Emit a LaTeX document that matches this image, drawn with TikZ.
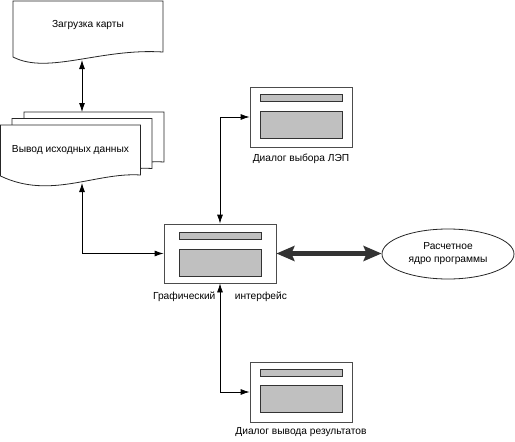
\documentclass[tikz,border=0pt]{standalone}
\usepackage{fontspec}
\setmainfont{Liberation Sans}
\usetikzlibrary{positioning, arrows.meta, shapes.geometric, calc, backgrounds}

\definecolor{bargray}{RGB}{192,192,192}

% sheet with a wavy lower edge: node, left control, right control, rise of right end
\newcommand{\docsheet}[4]{%
  \begin{pgfonlayer}{background}
  \filldraw[sheet] (#1.south west) -- (#1.north west) -- (#1.north east)
    -- ($(#1.south east)+(0,-#4)$) .. controls +#3 and +#2 .. (#1.south west) -- cycle;
  \end{pgfonlayer}}

\begin{document}
\begin{tikzpicture}[
  x=1pt, y=-1pt,
  font=\fontsize{10.2}{12}\selectfont,
  sheet/.style={draw=black!85, fill=white, line width=0.8pt},
  sheetbox/.style={inner sep=0pt, outer sep=0pt, minimum width=140pt, minimum height=51pt},
  winbox/.style={draw=black!70, fill=white, line width=0.8pt, inner sep=0pt,
                 minimum width=102pt, minimum height=60pt},
  titlebar/.style={draw=black!80, fill=bargray, line width=0.8pt, inner sep=0pt,
                   minimum width=82pt, minimum height=7pt},
  panel/.style={draw=black!80, fill=bargray, line width=0.8pt, inner sep=0pt,
                minimum width=82pt, minimum height=27pt},
  wlab/.style={inner sep=1pt},
  link/.style={{Latex[length=9pt,width=6pt]}-{Latex[length=9pt,width=6pt]}, line width=0.8pt},
  bus/.style={{Stealth[length=18pt,width=15pt,inset=3pt]}-{Stealth[length=18pt,width=15pt,inset=3pt]},
              line width=4.5pt, draw=black!80}
]
\useasboundingbox (0,0) rectangle (515,442);

% documents
\node[sheetbox, minimum width=150pt, minimum height=56pt, text depth=10pt]
  (load) at (88,29) {Загрузка карты};
\docsheet{load}{(35,18)}{(-63,-4)}{5}

\node[sheetbox] (back)   at (94,137.5) {};
\node[sheetbox] (middle) at (82,144) {};
\node[sheetbox] (front)  at (70.5,150.5) {Вывод исходных данных};
\docsheet{back}{(50,24)}{(-45,-3)}{1}
\docsheet{middle}{(50,24)}{(-45,-3)}{1}
\docsheet{front}{(50,24)}{(-45,-3)}{1}

% windows
\node[winbox, minimum width=112pt, minimum height=59pt] (gui) at (220,253.5) {};
\node[titlebar, below=8pt of gui.north] (guibar) {};
\node[panel, above=7pt of gui.south] (guipanel) {};
\node[wlab, below=7pt of gui.south] (guilab) {Графический\hspace{1.9em}интерфейс};

\node[winbox] (selbox) at (301,117) {};
\node[titlebar, below=7pt of selbox.north] (selbar) {};
\node[panel, above=9pt of selbox.south] (selpanel) {};
\node[wlab, below=5pt of selbox.south] (sellab) {Диалог выбора ЛЭП};

\node[winbox] (outbox) at (301,392) {};
\node[titlebar, below=7pt of outbox.north] (outbar) {};
\node[panel, above=9.5pt of outbox.south] (outpanel) {};
\node[wlab, below=4pt of outbox.south] (outlab) {Диалог вывода результатов};

\node[ellipse, draw=black!85, fill=white, line width=0.8pt, inner sep=0pt, align=center,
      minimum width=132pt, minimum height=50pt]
  (core) at (448,254) {Расчетное\\[1pt]ядро программы};

% connectors
\coordinate (loadfoot) at (82,60);
\coordinate (datafoot) at (82,183);
\draw[link] (loadfoot) -- (loadfoot |- back.north);
\draw[link] (datafoot) |- (gui.west);
\draw[link] (gui.north) |- (selbox.west);
\draw[link] (gui.south) |- (outbox.west);
\draw[bus] (gui.east) -- (gui.east -| core.west);
\end{tikzpicture}
\end{document}
